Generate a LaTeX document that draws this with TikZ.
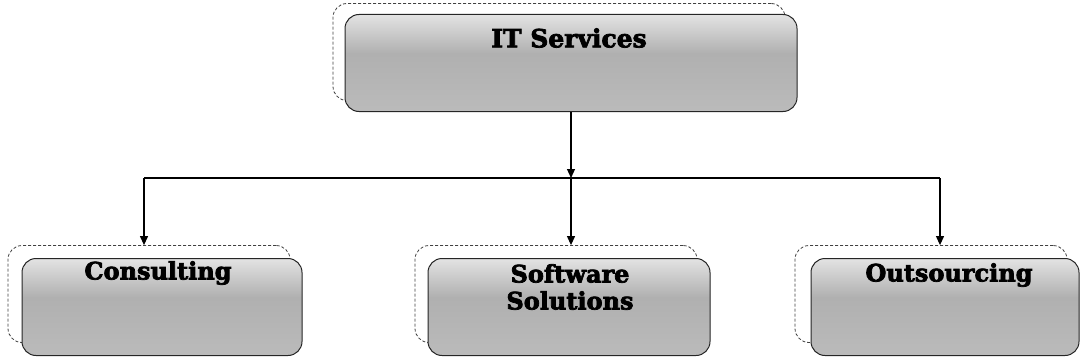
\documentclass[tikz,border=0pt]{standalone}
\usepackage{fontspec}
\newfontfamily\heavy{DejaVu Serif}[UprightFont={* Bold},FakeBold=3]
\usetikzlibrary{arrows.meta,calc}
\pgfdeclareverticalshading{boxshade}{100bp}{color(0bp)=(gray!25); color(12bp)=(gray!50); color(55bp)=(gray!62); color(76bp)=(gray!20); color(100bp)=(white)}
\tikzset{
  backbox/.style={draw=black!75, densely dashed, line width=0.8pt, rounded corners=14pt, fill=white, minimum width=#1, minimum height=97pt, inner sep=0pt},
  frontbox/.style={draw=black!85, line width=1pt, rounded corners=14pt, shading=boxshade, minimum width=#1, minimum height=97pt, inner sep=0pt},
  lbl/.style={font=\heavy\fontsize{24}{27}\selectfont, align=center, inner sep=0pt},
  conn/.style={line width=1.1pt, black},
  arr/.style={conn, -{Triangle[width=8pt,length=9pt]}}
}
\begin{document}
\begin{tikzpicture}[x=1pt,y=-1pt]
\useasboundingbox (0,0) rectangle (1081,361);
% top
\node[backbox=452pt] (topB) at (559,52) {};
\node[frontbox=452pt] (topF) at (571,63) {};
\node[lbl,font=\heavy\fontsize{25}{27}\selectfont] (topT) at (569,38) {IT Services};
% consulting
\node[backbox=282pt] (conB) at (149,294) {};
\node[frontbox=280pt] (conF) at (162,307) {};
\node[lbl] (conT) at (158,273) {Consulting};
% software
\node[backbox=282pt] (sofB) at (556,294) {};
\node[frontbox=282pt] (sofF) at (569,307) {};
\node[lbl] (sofT) at (570,287) {Software\\Solutions};
% outsourcing
\node[backbox=272pt] (outB) at (931,294) {};
\node[frontbox=268pt] (outF) at (945,307) {};
\node[lbl] (outT) at (949,275) {Outsourcing};
% connectors
\coordinate (hub) at (571,178);
\coordinate (hl) at (144,178);
\coordinate (hr) at (940,178);
\draw[arr] (topF.south -| hub) -- (hub);
\draw[conn] (hl) -- (hr);
\draw[arr] (hl) -- (hl |- conB.north);
\draw[arr] (hub) -- (hub |- sofB.north);
\draw[arr] (hr) -- (hr |- outB.north);
\end{tikzpicture}
\end{document}
